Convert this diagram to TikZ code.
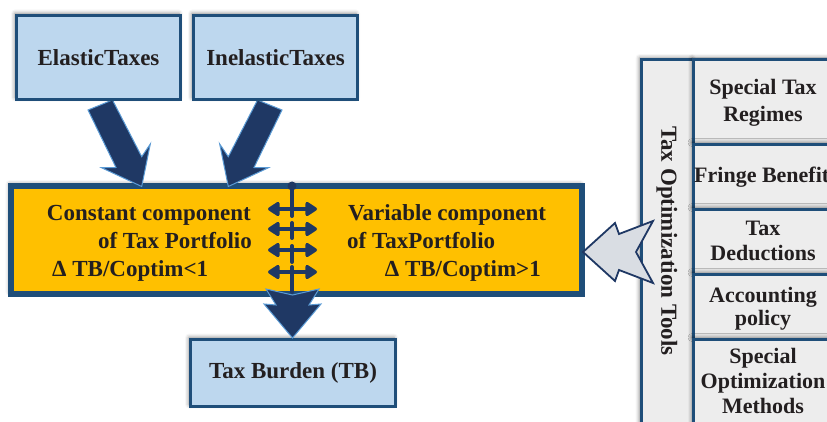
\documentclass[tikz,border=0pt]{standalone}
\usepackage{fontspec}
\setmainfont{Liberation Serif}
\usetikzlibrary{arrows.meta,shadows.blur}
\definecolor{bordc}{HTML}{1F4E79}
\definecolor{navy}{HTML}{1F3864}
\definecolor{outl}{HTML}{5B9BD5}
\definecolor{lblue}{HTML}{BDD7EE}
\definecolor{orng}{HTML}{FFC000}
\definecolor{pgray}{HTML}{EDEDED}
\definecolor{agray}{HTML}{D9DDE3}
\definecolor{txtc}{HTML}{231F20}
\tikzset{
  txt/.style={font=\fontsize{23}{26}\selectfont\bfseries, text=txtc, inner sep=0pt},
  rtxt/.style={font=\fontsize{22}{26}\selectfont\bfseries, text=txtc, inner sep=0pt},
  softshadow/.style={blur shadow={shadow xshift=-1.5pt, shadow yshift=2pt, shadow blur radius=4pt, shadow opacity=50}},
  topbox/.style={draw=bordc, line width=3pt, fill=lblue, softshadow, txt},
  obox/.style={draw=bordc, line width=6pt, fill=orng, softshadow},
  panel/.style={draw=bordc, line width=3pt, fill=pgray, softshadow, inner sep=0pt},
  bigarrow/.style={fill=navy, draw=outl, line width=1pt, line join=miter},
  grayarrow/.style={fill=agray, draw=navy, line width=1.8pt, line join=miter},
  dline/.style={draw=navy, line width=4pt, line cap=round},
  darrow/.style={draw=navy, line width=4pt, {Triangle[length=13pt 0 0, width=16pt 0 0, round]}-{Triangle[length=13pt 0 0, width=16pt 0 0, round]}},
}
\begin{document}
\begin{tikzpicture}[x=1pt,y=-1pt]
\useasboundingbox (0,0) rectangle (827,422);
\clip (0,0) rectangle (827,422);

% right panel
\node[panel, minimum width=52.5, minimum height=400, anchor=north west] (title) at (639.5,58.5) {};
\node[panel, minimum width=144, minimum height=84.5, anchor=north west] (r1) at (692,58.5) {};
\node[panel, minimum width=144, minimum height=65, anchor=north west] (r2) at (692,143) {};
\node[panel, minimum width=144, minimum height=65, anchor=north west] (r3) at (692,208) {};
\node[panel, minimum width=144, minimum height=65, anchor=north west] (r4) at (692,273) {};
\node[panel, minimum width=144, minimum height=122, anchor=north west] (r5) at (692,338) {};
\node[txt, rotate=-90] (tt) at (667,241) {Tax Optimization Tools};
\node[rtxt, anchor=base] (r1a) at (763,95) {Special Tax};
\node[rtxt, anchor=base] (r1b) at (763,122) {Regimes};
\node[rtxt, anchor=base west] (r2a) at (694,183) {Fringe Benefits};
\node[rtxt, anchor=base] (r3a) at (763,235) {Tax};
\node[rtxt, anchor=base] (r3b) at (763,260) {Deductions};
\node[rtxt, anchor=base] (r4a) at (763,302) {Accounting};
\node[rtxt, anchor=base] (r4b) at (763,325) {policy};
\node[rtxt, anchor=base] (r5a) at (763,363) {Special};
\node[rtxt, anchor=base] (r5b) at (763,388) {Optimization};
\node[rtxt, anchor=base] (r5c) at (763,413) {Methods};

% portfolio box
\node[obox, minimum width=571, minimum height=108] (port) at (296.5,240) {};
\node[txt, anchor=base east] (c1) at (251,221) {Constant component};
\node[txt, anchor=base east] (c2) at (252,248) {of Tax Portfolio};
\node[txt, anchor=base west] (c3) at (52,276) {Δ TB/Coptim<1};
\node[txt, anchor=base west] (v1) at (348,221) {Variable component};
\node[txt, anchor=base west] (v2) at (347,248) {of TaxPortfolio};
\node[txt, anchor=base east] (v3) at (541,276) {Δ TB/Coptim>1};

% arrows from top boxes
\draw[bigarrow] (88,110) -- (112.5,100) -- (141.7,156.7) -- (150.3,144) -- (141.7,186.5) -- (101.5,167.7) -- (116,167.5) -- cycle;
\draw[bigarrow] (282,110) -- (257.5,100) -- (228.3,156.7) -- (219.7,144) -- (228.3,186.5) -- (268.5,167.7) -- (254,167.5) -- cycle;

% top boxes
\node[topbox, minimum width=164, minimum height=84] (elastic) at (98.5,57.5) {ElasticTaxes};
\node[topbox, minimum width=164, minimum height=84] (inelastic) at (275.5,57.5) {InelasticTaxes};

% bottom box
\node[topbox, minimum width=205, minimum height=67] (tb) at (293,373) {Tax Burden (TB)};

% central double arrows
\coordinate (dtop) at (292,186);
\coordinate (dbot) at (292,292);
\fill[navy] (dtop) circle (4.5);
\draw[dline] (dtop) -- (292,216);
\draw[dline] (292,223) -- (292,238);
\draw[dline] (292,246) -- (292,262);
\draw[dline] (292,267) -- (dbot);
\draw[darrow] (268,209) -- (317,209);
\draw[darrow] (268,229) -- (317,229);
\draw[darrow] (268,250) -- (317,250);
\draw[darrow] (268,272) -- (317,272);

% down arrow to tax burden
\draw[bigarrow] (266,289) -- (292.5,295) -- (319,289) -- (309,305) -- (321,304) -- (292.5,338) -- (264,304) -- (276,305) -- cycle;

% gray arrow from tools panel
\draw[grayarrow] (583,252) -- (615,223) -- (619,234) -- (653,221) -- (636,252) -- (653,283) -- (619,270) -- (615,281) -- cycle;
\end{tikzpicture}
\end{document}
